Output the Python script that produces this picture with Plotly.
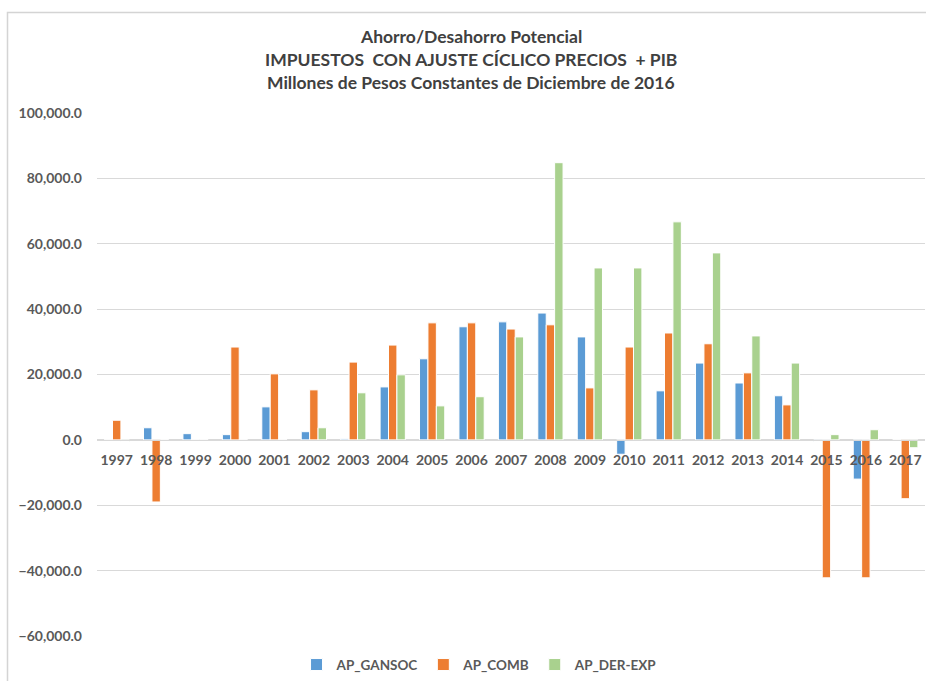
import plotly.graph_objects as go

years = [str(y) for y in range(1997, 2018)]
ap_gansoc = [0, 3700, 1900, 1600, 10100, 2500, 300, 16200, 24800, 34600, 36100,
             38800, 31500, -4400, 15000, 23500, 17400, 13500, -500, -12000, 0]
ap_comb = [6000, -19000, 0, 28400, 20200, 15300, 23800, 29000, 35800, 35800, 33900,
           35200, 15900, 28400, 32700, 29400, 20500, 10700, -42200, -42200, -18000]
ap_der_exp = [-500, 0, 0, 0, 0, 3700, 14400, 19900, 10400, 13200, 31500,
              84800, 52600, 52600, 66700, 57200, 31800, 23500, 1600, 3100, -2400]

series = [("AP_GANSOC", ap_gansoc, "#5B9BD5"),
          ("AP_COMB", ap_comb, "#ED7D31"),
          ("AP_DER-EXP", ap_der_exp, "#A9D18E")]

FONT = "Lato"
GRAY = "#595959"

fig = go.Figure()
for name, vals, color in series:
    fig.add_trace(go.Bar(x=years, y=vals, name=name,
                         marker=dict(color=color, line=dict(color="white", width=1))))

fig.update_layout(
    width=926, height=681,
    margin=dict(l=97, r=1, t=113, b=45),
    paper_bgcolor="white", plot_bgcolor="white",
    barmode="group", bargap=0.36, bargroupgap=0.0,
    font=dict(family=FONT, color=GRAY),
    showlegend=True,
    legend=dict(orientation="h", x=0.462, xanchor="center", y=-0.055, yanchor="middle",
                font=dict(family=FONT, size=13.5, color=GRAY, weight="bold"),
                itemwidth=30, traceorder="normal"),
    xaxis=dict(type="category", anchor="free", position=0.375, showline=True,
               linecolor="#D9D9D9", linewidth=1, ticks="", showgrid=False,
               ticklabelstandoff=7,
               tickfont=dict(family=FONT, size=14, color=GRAY, weight="bold")),
    yaxis=dict(range=[-60000, 100000], dtick=20000, tickformat=",.1f",
               showgrid=True, gridcolor="#D9D9D9", zeroline=True, zerolinecolor="#D9D9D9",
               ticks="", ticklabelstandoff=14,
               tickfont=dict(family=FONT, size=14, color=GRAY, weight="bold")),
)

titles = ["Ahorro/Desahorro Potencial",
          "IMPUESTOS  CON AJUSTE CÍCLICO PRECIOS  + PIB",
          "Millones de Pesos Constantes de Diciembre de 2016"]
title_y = [37, 59, 82]
for t, py in zip(titles, title_y):
    fig.add_annotation(text="<b>%s</b>" % t, xref="paper", yref="paper",
                       x=(471 - 97) / 828, y=1 + (113 - py) / 523,
                       xanchor="center", yanchor="middle", showarrow=False,
                       font=dict(family=FONT, size=17.5, color="#404040"))

# chart border (left and top edges visible)
bx = (7.5 - 97) / 828
by = 1 + (113 - 12.5) / 523
fig.add_shape(type="rect", xref="paper", yref="paper",
              x0=bx, x1=1.05, y0=(636 - 700) / 523, y1=by,
              line=dict(color="#D4D4D4", width=1.5), fillcolor="rgba(0,0,0,0)", layer="below")

fig.write_html("out.html", config={"displayModeBar": False},
               post_script="document.body.style.margin='0';document.body.style.overflow='hidden';")
